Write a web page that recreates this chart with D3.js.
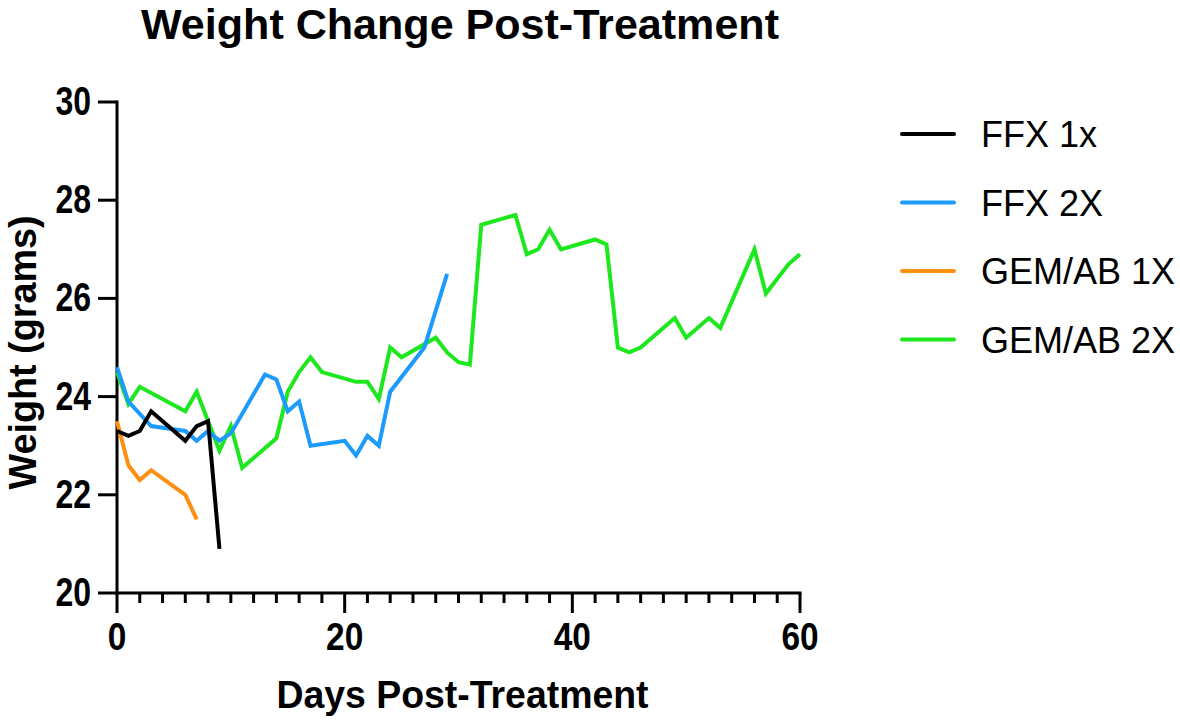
<!DOCTYPE html>
<html>
<head>
  <meta charset="utf-8">
  <title>Weight Change Post-Treatment</title>
  <script src="https://d3js.org/d3.v7.min.js"></script>
  <style>
    body { margin: 0; background: #fff; }
    text { font-family: "Liberation Sans", Arial, Helvetica, sans-serif; }
  </style>
</head>
<body>
<script>
  // data
  var seriesNames = ["FFX 1x", "FFX 2X", "GEM/AB 1X", "GEM/AB 2X"];
  var seriesColors = ["#000000", "#1c9bfc", "#fd8f14", "#1de81d"];

  var ffx1Days = [0, 1, 2, 3, 6, 7, 8, 9];
  var ffx1Weight = [23.3, 23.2, 23.3, 23.7, 23.1, 23.4, 23.5, 20.9];

  var ffx2Days = [0, 1, 3, 6, 7, 8, 9, 10, 13, 14, 15, 16, 17, 20, 21, 22, 23, 24, 27, 29];
  var ffx2Weight = [24.6, 23.9, 23.4, 23.3, 23.1, 23.3, 23.1, 23.25, 24.45, 24.35, 23.7, 23.9, 23.0, 23.1, 22.8, 23.2, 23.0, 24.1, 25.0, 26.5];

  var gem1Days = [0, 1, 2, 3, 6, 7];
  var gem1Weight = [23.5, 22.6, 22.3, 22.5, 22.0, 21.5];

  var gem2Days = [0, 1, 2, 6, 7, 9, 10, 11, 14, 15, 16, 17, 18, 21, 22, 23, 24, 25, 28, 29, 30, 31,
                  32, 35, 36, 37, 38, 39, 42, 43, 44, 45, 46, 49, 50, 52, 53, 56, 57, 59, 60];
  var gem2Weight = [24.5, 23.85, 24.2, 23.7, 24.1, 22.9, 23.4, 22.55, 23.15, 24.1, 24.5, 24.8, 24.5, 24.3, 24.3, 23.95, 25.0, 24.8, 25.2, 24.9, 24.7, 24.65,
                    27.5, 27.7, 26.9, 27.0, 27.4, 27.0, 27.2, 27.1, 25.0, 24.9, 25.0, 25.6, 25.2, 25.6, 25.4, 27.0, 26.1, 26.7, 26.9];

  var xTicks = [0, 20, 40, 60];
  var yTicks = [20, 22, 24, 26, 28, 30];

  var series = [
    { name: seriesNames[0], color: seriesColors[0], days: ffx1Days, weight: ffx1Weight },
    { name: seriesNames[1], color: seriesColors[1], days: ffx2Days, weight: ffx2Weight },
    { name: seriesNames[2], color: seriesColors[2], days: gem1Days, weight: gem1Weight },
    { name: seriesNames[3], color: seriesColors[3], days: gem2Days, weight: gem2Weight }
  ];

  var width = 1180;
  var height = 726;
  var margin = { top: 102, bottom: 133, left: 117, right: 380 };

  var svg = d3.select("body").append("svg")
    .attr("width", width)
    .attr("height", height);

  var xScale = d3.scaleLinear().domain([0, 60]).range([margin.left, width - margin.right]);
  var yScale = d3.scaleLinear().domain([20, 30]).range([height - margin.bottom, margin.top]);

  // x axis: major ticks + minor every 2 days
  var xAxis = svg.append("g")
    .attr("transform", "translate(0," + yScale(20) + ")");
  xAxis.append("line")
    .attr("x1", xScale(0)).attr("x2", xScale(60))
    .attr("stroke", "#000").attr("stroke-width", 3).attr("stroke-linecap", "square");
  xAxis.selectAll(".minor")
    .data(d3.range(2, 60, 2).filter(function(d) { return d % 20 !== 0; }))
    .enter().append("line")
    .attr("x1", function(d) { return xScale(d); })
    .attr("x2", function(d) { return xScale(d); })
    .attr("y1", 0).attr("y2", 10)
    .attr("stroke", "#000").attr("stroke-width", 3);
  xAxis.selectAll(".major")
    .data(xTicks)
    .enter().append("line")
    .attr("x1", function(d) { return xScale(d); })
    .attr("x2", function(d) { return xScale(d); })
    .attr("y1", 0).attr("y2", 20)
    .attr("stroke", "#000").attr("stroke-width", 3);
  xAxis.selectAll(".lab")
    .data(xTicks)
    .enter().append("text")
    .attr("transform", function(d) { return "translate(" + xScale(d) + ",57) scale(0.88,1)"; })
    .attr("text-anchor", "middle")
    .attr("font-size", "38px")
    .attr("font-weight", "bold")
    .text(function(d) { return d; });

  // y axis
  var yAxis = svg.append("g")
    .attr("transform", "translate(" + xScale(0) + ",0)");
  yAxis.append("line")
    .attr("y1", yScale(30)).attr("y2", yScale(20))
    .attr("stroke", "#000").attr("stroke-width", 3).attr("stroke-linecap", "square");
  yAxis.selectAll(".major")
    .data(yTicks)
    .enter().append("line")
    .attr("x1", -19).attr("x2", 0)
    .attr("y1", function(d) { return yScale(d); })
    .attr("y2", function(d) { return yScale(d); })
    .attr("stroke", "#000").attr("stroke-width", 3);
  yAxis.selectAll(".lab")
    .data(yTicks)
    .enter().append("text")
    .attr("transform", function(d) { return "translate(-26," + (yScale(d) + 13) + ") scale(0.8,1)"; })
    .attr("text-anchor", "end")
    .attr("font-size", "40px")
    .attr("font-weight", "bold")
    .text(function(d) { return d; });

  // axis titles
  svg.append("text")
    .attr("x", (xScale(0) + xScale(60)) / 2 + 4)
    .attr("y", 708)
    .attr("text-anchor", "middle")
    .attr("font-size", "38px")
    .attr("font-weight", "bold")
    .attr("textLength", 372)
    .attr("lengthAdjust", "spacingAndGlyphs")
    .text("Days Post-Treatment");

  svg.append("text")
    .attr("transform", "translate(36," + (yScale(25) + 5) + ") rotate(-90)")
    .attr("text-anchor", "middle")
    .attr("font-size", "38px")
    .attr("font-weight", "bold")
    .attr("textLength", 274)
    .attr("lengthAdjust", "spacingAndGlyphs")
    .text("Weight (grams)");

  svg.append("text")
    .attr("x", 460)
    .attr("y", 39)
    .attr("text-anchor", "middle")
    .attr("font-size", "42px")
    .attr("font-weight", "bold")
    .attr("textLength", 638)
    .attr("lengthAdjust", "spacingAndGlyphs")
    .text("Weight Change Post-Treatment");

  // lines, first series on top
  var line = d3.line()
    .x(function(d) { return xScale(d[0]); })
    .y(function(d) { return yScale(d[1]); });

  svg.append("g").selectAll("path")
    .data(series.slice().reverse())
    .enter().append("path")
    .attr("fill", "none")
    .attr("stroke", function(d) { return d.color; })
    .attr("stroke-width", 4)
    .attr("stroke-linejoin", "miter")
    .attr("d", function(d) { return line(d3.zip(d.days, d.weight)); });

  // legend
  var legend = svg.append("g").selectAll("g")
    .data(series)
    .enter().append("g")
    .attr("transform", function(d, i) { return "translate(902," + (134 + i * 68.5) + ")"; });
  legend.append("line")
    .attr("x1", 0).attr("x2", 52)
    .attr("stroke", function(d) { return d.color; })
    .attr("stroke-width", 4)
    .attr("stroke-linecap", "round");
  legend.append("text")
    .attr("x", 79)
    .attr("y", 13)
    .attr("font-size", "36px")
    .text(function(d) { return d.name; });
</script>
</body>
</html>
